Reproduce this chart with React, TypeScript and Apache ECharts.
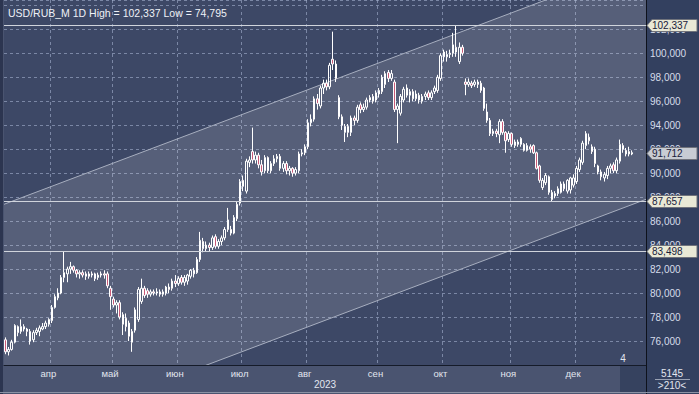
import React, { useEffect, useRef } from "react";
import * as echarts from "echarts";

// ---------- data ----------
const START_DATE = "2023-03-13";
const HOLIDAYS = ["2023-05-01", "2023-05-09", "2023-06-12", "2023-11-06"];
const EMPTY_SLOTS = 4;
const MONTHS = ["янв", "фев", "мар", "апр", "май", "июн", "июл", "авг", "сен", "окт", "ноя", "дек"];
const TITLE = "USD/RUB_M 1D High = 102,337 Low = 74,795";
const YEAR_LABEL = "2023";
const FOOT_TOP = "5145";
const FOOT_BOTTOM = ">210<";
const BARS_LABEL = "4";

// [open, close, low, high]
const OHLC: number[][] = [
  [76.1, 75.1, 74.9, 76.3], [75.1, 75.3, 74.795, 75.5], [75.3, 75.9, 75.2, 76.1], [75.9, 77.3, 75.8, 77.4],
  [77.2, 76.7, 76.4, 77.3], [76.8, 77.2, 76.6, 77.8], [77.2, 77.0, 76.8, 77.4], [77.0, 76.8, 76.4, 77.1],
  [76.8, 76.0, 75.7, 77.0], [76.1, 76.7, 75.9, 76.9], [76.7, 76.9, 76.5, 77.1], [76.8, 77.1, 76.4, 77.3],
  [77.0, 77.2, 76.9, 77.5], [77.2, 77.5, 77.0, 77.7], [77.4, 77.8, 77.2, 77.9],
  // Apr
  [77.7, 78.8, 77.5, 79.0], [78.8, 79.7, 78.7, 79.9], [79.6, 80.0, 79.4, 80.4], [80.0, 81.3, 79.9, 81.5],
  [81.3, 81.7, 80.9, 83.498], [81.6, 82.0, 80.9, 82.2], [82.0, 82.2, 81.6, 82.6], [82.2, 81.9, 81.7, 82.3],
  [81.9, 81.6, 81.3, 82.0], [81.6, 81.7, 81.2, 81.9], [81.7, 81.5, 81.3, 81.9], [81.6, 81.4, 81.1, 81.8],
  [81.4, 81.6, 81.2, 81.8], [81.6, 81.5, 81.3, 81.8], [81.6, 81.2, 81.0, 81.7], [81.3, 81.5, 81.1, 81.7],
  [81.5, 81.6, 81.3, 81.8], [81.6, 81.5, 81.2, 81.9], [81.6, 80.6, 80.4, 81.8], [80.4, 79.7, 78.6, 80.6],
  // May
  [79.5, 79.0, 78.8, 79.7], [79.0, 79.2, 78.3, 79.4], [79.2, 78.0, 77.8, 79.4], [78.2, 77.4, 76.5, 78.4],
  [77.9, 77.2, 76.8, 78.3], [77.5, 76.4, 76.0, 77.7], [75.9, 76.8, 75.1, 77.0], [76.9, 78.6, 76.7, 78.8],
  [77.8, 80.3, 77.6, 80.5], [79.3, 80.4, 79.1, 81.2], [80.4, 79.8, 79.6, 80.6], [80.2, 79.9, 79.6, 80.4],
  [79.9, 80.1, 79.7, 80.3], [80.1, 80.0, 79.8, 80.3], [80.0, 80.1, 79.8, 80.4], [80.1, 79.9, 79.7, 80.3],
  [79.9, 80.1, 79.7, 80.3], [80.0, 80.5, 79.8, 80.6], [80.5, 80.3, 80.0, 80.8], [80.4, 81.0, 80.2, 81.2],
  [81.0, 80.8, 80.5, 81.5],
  // Jun
  [80.8, 81.2, 80.6, 81.4], [81.3, 80.9, 80.7, 81.5], [80.9, 81.3, 80.6, 81.5], [81.0, 81.5, 80.7, 81.6],
  [81.4, 81.9, 81.2, 82.0], [81.9, 81.6, 81.3, 82.1], [81.7, 82.8, 81.6, 83.0], [82.8, 84.4, 82.6, 85.1],
  [84.3, 83.7, 83.4, 84.6], [83.7, 84.0, 83.5, 84.3], [84.0, 83.8, 83.5, 84.2], [83.8, 84.6, 83.6, 84.8],
  [84.7, 83.9, 83.7, 84.9], [83.9, 84.3, 83.7, 84.5], [84.3, 84.6, 84.0, 84.8], [84.6, 85.3, 84.4, 85.5],
  [86.1, 85.3, 85.1, 87.1], [85.3, 85.0, 84.8, 85.6], [85.0, 86.3, 84.9, 86.5], [86.2, 87.4, 86.0, 87.6],
  [87.5, 89.3, 87.3, 89.5],
  // Jul
  [89.4, 88.9, 88.5, 89.8], [88.5, 91.0, 88.3, 91.2], [90.9, 91.1, 90.5, 91.4], [91.8, 91.1, 90.8, 93.8],
  [91.1, 91.5, 90.8, 91.8], [91.5, 90.7, 90.4, 91.7], [90.7, 90.1, 89.8, 91.1], [90.2, 91.3, 90.0, 91.5],
  [91.3, 90.2, 90.0, 91.4], [90.2, 90.8, 90.0, 91.0], [90.8, 91.2, 90.6, 91.5], [91.2, 91.4, 90.9, 91.6],
  [91.4, 90.4, 90.2, 91.6], [90.4, 90.8, 90.1, 91.0], [90.8, 90.2, 89.9, 91.0], [90.2, 90.4, 89.8, 90.6],
  [90.4, 90.0, 89.7, 90.5], [90.0, 90.3, 89.8, 90.5], [90.2, 91.6, 90.0, 91.8], [91.6, 91.7, 91.4, 92.0],
  [91.7, 92.2, 91.5, 92.4],
  // Aug
  [92.2, 94.2, 92.0, 94.5], [94.2, 94.5, 93.9, 94.9], [94.5, 96.2, 94.3, 96.4], [96.2, 95.8, 95.3, 96.6],
  [95.6, 97.1, 95.4, 97.3], [97.1, 97.5, 96.6, 97.8], [97.5, 97.2, 96.9, 97.8], [97.2, 99.0, 97.0, 99.2],
  [99.5, 99.1, 98.6, 101.8], [99.1, 97.9, 97.6, 99.4], [96.3, 94.7, 94.5, 96.5], [94.7, 94.0, 93.6, 94.9],
  [93.4, 93.9, 92.6, 94.1], [93.9, 93.4, 93.0, 94.1], [93.4, 94.6, 93.1, 94.8], [94.6, 94.4, 94.0, 94.8],
  [94.4, 95.5, 94.2, 95.7], [95.7, 95.3, 95.0, 95.9], [95.3, 95.5, 95.1, 95.8], [95.5, 96.1, 95.3, 96.3],
  [96.1, 96.3, 95.9, 96.5], [96.4, 96.0, 95.8, 96.6], [96.1, 96.7, 95.9, 96.9],
  // Sep
  [96.6, 96.9, 96.3, 97.1], [96.8, 98.0, 96.6, 98.2], [97.4, 98.3, 97.1, 98.5], [98.4, 97.9, 97.6, 98.6],
  [97.9, 98.3, 97.7, 98.6], [97.6, 95.3, 95.1, 97.8], [95.3, 95.6, 92.5, 95.8], [95.0, 96.4, 94.8, 96.6],
  [96.1, 97.0, 95.9, 97.2], [97.1, 96.5, 96.3, 97.4], [96.5, 96.8, 95.9, 97.0], [96.8, 96.2, 96.0, 97.0],
  [96.2, 96.6, 96.0, 96.9], [96.5, 96.1, 95.8, 96.7], [96.0, 96.4, 95.8, 96.6], [96.4, 96.6, 96.1, 96.8],
  [96.7, 96.3, 96.1, 96.9], [96.3, 96.7, 96.1, 96.9], [96.8, 97.1, 96.6, 97.3], [96.9, 98.0, 96.7, 98.2],
  [97.9, 99.8, 97.7, 100.0],
  // Oct
  [100.1, 99.7, 99.3, 100.3], [99.7, 99.9, 99.3, 100.2], [99.9, 100.0, 99.6, 100.3], [100.0, 100.7, 99.7, 101.7],
  [100.5, 100.1, 99.7, 102.337], [99.3, 100.5, 99.1, 100.9], [100.5, 100.0, 99.8, 100.7], [97.6, 97.4, 96.5, 97.9],
  [97.4, 97.6, 97.2, 97.9], [97.5, 97.3, 97.1, 97.7], [97.4, 97.6, 97.2, 97.8], [97.6, 97.4, 97.1, 97.8],
  [97.5, 96.9, 96.7, 97.7], [97.1, 95.4, 95.2, 97.2], [94.4, 95.1, 94.2, 95.8], [94.4, 93.3, 93.1, 94.6],
  [93.3, 93.5, 93.1, 93.7], [93.5, 93.3, 93.0, 93.7], [93.2, 94.3, 92.5, 94.5], [94.3, 93.4, 93.2, 94.5],
  [93.4, 92.7, 91.7, 93.5], [92.8, 93.3, 92.6, 93.5],
  // Nov
  [93.3, 92.4, 92.2, 93.4], [92.3, 92.6, 92.1, 92.8], [92.6, 92.4, 92.2, 92.8], [92.4, 92.9, 92.2, 93.0],
  [92.4, 91.9, 91.8, 92.5], [91.9, 92.3, 91.8, 92.5], [92.2, 92.0, 91.7, 92.4], [92.3, 91.7, 91.6, 92.4],
  [91.7, 90.4, 90.3, 91.8], [90.6, 89.4, 89.2, 90.7], [88.8, 89.4, 88.6, 89.6], [89.2, 89.8, 89.0, 90.0],
  [89.7, 88.4, 88.2, 89.8], [87.8, 88.4, 87.657, 88.6], [88.1, 88.3, 87.9, 88.5], [88.3, 88.7, 88.1, 88.9],
  [88.4, 89.1, 88.3, 89.3], [89.1, 88.7, 88.5, 89.3], [88.5, 89.4, 88.3, 89.5], [88.6, 89.6, 88.3, 89.7],
  [89.0, 89.6, 88.8, 89.9],
  // Dec
  [89.3, 90.4, 89.1, 90.6], [90.3, 91.1, 90.1, 91.3], [90.9, 92.5, 90.7, 92.7], [92.3, 93.3, 92.0, 93.5],
  [93.0, 92.7, 92.4, 93.3], [92.2, 91.8, 91.6, 92.4], [92.0, 90.8, 90.5, 92.2], [90.6, 90.1, 89.9, 90.7],
  [90.1, 89.7, 89.4, 90.3], [89.6, 89.9, 89.3, 90.1], [89.8, 90.4, 89.5, 90.6], [90.4, 90.6, 90.0, 90.8],
  [90.7, 90.2, 90.0, 90.9], [90.2, 91.1, 90.0, 91.3], [91.0, 92.4, 90.8, 92.8], [92.3, 92.0, 91.7, 92.5],
  [91.9, 91.6, 91.4, 92.1], [91.6, 91.8, 91.4, 92.2], [91.6, 91.712, 91.5, 91.9],
];

const LEVELS = [102.337, 87.657, 83.498];
const LAST_PRICE = 91.712;
const Y_MIN = 74;
const Y_MAX = 104.44;
const Y_STEP = 2;
const Y_LABEL_MAX = 102;
// channel lines: [categoryIndex, value]
const CHANNEL_UPPER = [[0, 87.45], [207, 107.55]];
const CHANNEL_LOWER = [[0, 67.67], [207, 87.77]];

// ---------- helpers ----------
function tradingDays(start: string, count: number, holidays: string[]): string[] {
  const out: string[] = [];
  const d = new Date(start + "T00:00:00Z");
  while (out.length < count) {
    const dow = d.getUTCDay();
    const s = d.toISOString().slice(0, 10);
    if (dow !== 0 && dow !== 6 && holidays.indexOf(s) < 0) out.push(s);
    d.setUTCDate(d.getUTCDate() + 1);
  }
  return out;
}
const fmt = (v: number) => v.toFixed(3).replace(".", ",");
const FONT = "'Liberation Sans Narrow', 'Liberation Sans', Arial, sans-serif";

const W = 699;
const H = 394;
const GRID_L = 4;
const GRID_R = 53;
const GRID_T = 0;
const GRID_B = 29;

export default function App() {
  const ref = useRef<HTMLDivElement>(null);
  useEffect(() => {
    document.body.style.margin = "0";
    if (!ref.current) return;
    const chart = echarts.init(ref.current, undefined, { renderer: "svg" });
    const days = tradingDays(START_DATE, OHLC.length + EMPTY_SLOTS, HOLIDAYS);
    const isMonthStart = (i: number) =>
      i > 0 && i < OHLC.length && days[i].slice(5, 7) !== days[i - 1].slice(5, 7);

    const option: any = {
      animation: false,
      backgroundColor: "#4a5470",
      title: {
        text: TITLE,
        left: 3,
        top: 2,
        textStyle: { color: "#eef1f7", fontSize: 10.5, fontWeight: "normal", fontFamily: FONT },
      },
      grid: {
        left: GRID_L,
        right: GRID_R,
        top: GRID_T,
        bottom: GRID_B,
        show: true,
        backgroundColor: "#3d4866",
        borderWidth: 0,
      },
      xAxis: {
        type: "category",
        data: days,
        boundaryGap: true,
        axisLine: { show: true, onZero: false, lineStyle: { color: "#151b29", width: 1 } },
        axisTick: { show: false },
        axisLabel: {
          interval: (i: number) => isMonthStart(i),
          formatter: (v: string) => MONTHS[parseInt(v.slice(5, 7), 10) - 1],
          color: "#e2e6ef",
          fontSize: 9.5,
          fontFamily: FONT,
          margin: 3,
          padding: [0, 7, 0, 0],
        },
        splitLine: {
          show: true,
          interval: (i: number) => isMonthStart(i),
          lineStyle: { color: "rgba(165,178,206,0.6)", type: [3, 3], width: 1 },
        },
      },
      yAxis: {
        type: "value",
        position: "right",
        min: Y_MIN,
        max: Y_MAX,
        interval: Y_STEP,
        axisLine: { show: false },
        axisTick: { show: false },
        axisLabel: {
          color: "#d6dcea",
          fontSize: 10,
          fontFamily: FONT,
          margin: 4,
          showMinLabel: false,
          showMaxLabel: false,
          formatter: (v: number) => (v > Y_LABEL_MAX ? "" : fmt(v)),
        },
        splitLine: { lineStyle: { color: "rgba(165,178,206,0.6)", type: [3, 3], width: 1 } },
      },
      series: [
        {
          type: "custom",
          data: [[0, 90]],
          clip: true,
          silent: true,
          z: 1,
          renderItem: (params: any, api: any) => {
            const cs = params.coordSys;
            const ext = (pts: number[][]) => {
              const a = api.coord(pts[0]);
              const b = api.coord(pts[1]);
              const k = (b[1] - a[1]) / (b[0] - a[0]);
              const x0 = cs.x - 2;
              const x1 = cs.x + cs.width + 2;
              return [
                [x0, a[1] + k * (x0 - a[0])],
                [x1, a[1] + k * (x1 - a[0])],
              ];
            };
            const up = ext(CHANNEL_UPPER);
            const lo = ext(CHANNEL_LOWER);
            return {
              type: "group",
              children: [
                {
                  type: "polygon",
                  shape: { points: [up[0], up[1], lo[1], lo[0]] },
                  style: { fill: "rgba(255,255,255,0.13)" },
                },
                { type: "polyline", shape: { points: up }, style: { stroke: "#a7aebf", lineWidth: 1, fill: null } },
                { type: "polyline", shape: { points: lo }, style: { stroke: "#a7aebf", lineWidth: 1, fill: null } },
              ],
            };
          },
        },
        {
          type: "candlestick",
          z: 3,
          data: OHLC,
          barWidth: 2,
          itemStyle: {
            color: "rgba(0,0,0,0)",
            color0: "#c85a78",
            borderColor: "#ffffff",
            borderColor0: "#ffffff",
            borderWidth: 1,
          },
          markLine: {
            silent: true,
            symbol: ["none", "none"],
            label: { show: false },
            lineStyle: { color: "#d0d4dc", width: 1, type: "solid" },
            data: LEVELS.map((v) => ({ yAxis: v })),
          },
        },
      ],
    };
    chart.setOption(option);

    const px = (v: number) => Math.round(chart.convertToPixel({ yAxisIndex: 0 }, v) as number) + 0.5;
    const tag = (v: number, fill: string) => {
      const y = px(v);
      return [
        {
          type: "polygon",
          z: 100,
          shape: { points: [[647, y], [652, y - 6], [697, y - 6], [697, y + 6], [652, y + 6]] },
          style: { fill, stroke: "#70737c", lineWidth: 1 },
        },
        {
          type: "text",
          z: 101,
          x: 652,
          y,
          style: { text: fmt(v), fill: "#18203a", font: `10px ${FONT}`, textVerticalAlign: "middle", textAlign: "left" },
        },
      ];
    };
    const plotRight = W - GRID_R;
    const plotBottom = H - GRID_B;
    chart.setOption({
      graphic: [
        { type: "rect", z: -10, shape: { x: plotRight, y: 0, width: W - plotRight, height: H }, style: { fill: "#33405f" } },
        { type: "rect", z: -9, shape: { x: 620, y: plotBottom + 1, width: plotRight - 620, height: H - plotBottom - 2 }, style: { fill: "#36425f" } },
        { type: "line", z: 50, shape: { x1: plotRight + 0.5, y1: 0, x2: plotRight + 0.5, y2: H }, style: { stroke: "#0e121c", lineWidth: 1 } },
        { type: "rect", z: 50, shape: { x: 0, y: 0, width: 3, height: H }, style: { fill: "#2c3550" } },
        { type: "line", z: 50, shape: { x1: 0, y1: H - 1.5, x2: W, y2: H - 1.5 }, style: { stroke: "#8a92a4", lineWidth: 1 } },
        ...LEVELS.flatMap((v) => tag(v, "#e9e9d6")),
        ...tag(LAST_PRICE, "#c8ccd3"),
        {
          type: "text", z: 60, x: (GRID_L + plotRight) / 2, y: 384,
          style: { text: YEAR_LABEL, fill: "#e2e6ef", font: `10px ${FONT}`, textAlign: "center", textVerticalAlign: "middle" },
        },
        {
          type: "text", z: 60, x: 623, y: 358,
          style: { text: BARS_LABEL, fill: "#e2e6ef", font: `10px ${FONT}`, textAlign: "center", textVerticalAlign: "middle" },
        },
        {
          type: "text", z: 60, x: 672, y: 373,
          style: { text: FOOT_TOP, fill: "#e2e6ef", font: `10px ${FONT}`, textAlign: "center", textVerticalAlign: "middle" },
        },
        { type: "line", z: 60, shape: { x1: 655, y1: 379.5, x2: 690, y2: 379.5 }, style: { stroke: "#9aa2b4", lineWidth: 1 } },
        {
          type: "text", z: 60, x: 672, y: 385,
          style: { text: FOOT_BOTTOM, fill: "#e2e6ef", font: `10px ${FONT}`, textAlign: "center", textVerticalAlign: "middle" },
        },
      ],
    });

    return () => chart.dispose();
  }, []);
  return <div ref={ref} style={{ width: W, height: H }} />;
}
